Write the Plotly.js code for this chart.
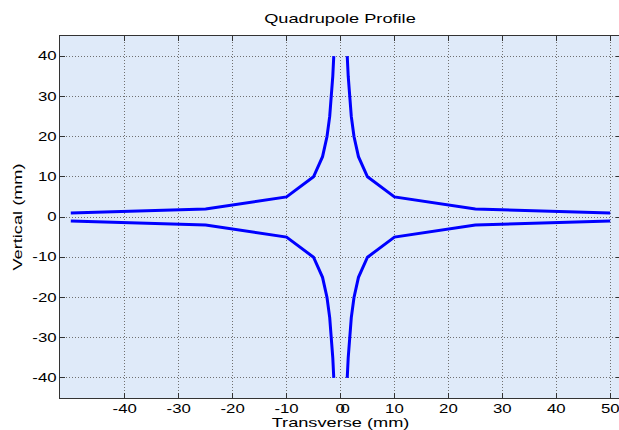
<!DOCTYPE html>
<html>
<head>
<meta charset="utf-8">
<script src="https://cdn.plot.ly/plotly-3.0.1.min.js"></script>
<style>
html,body{margin:0;padding:0;overflow:hidden;background:#fff;}
#chart{width:623px;height:430px;}
</style>
</head>
<body>
<div id="chart"></div>
<script>
// Branch points (right-upper branch), mirrored to the other quadrants
var transverse = [50, 25, 10, 5, 3.33, 2.5, 2, 1.67, 1.43, 1.25];
var vertical   = [1, 2, 5, 10, 15, 20, 25, 30, 35, 40];
var xTickVals = [-40, -30, -20, -10, 0, 10, 20, 30, 40, 50];
var xTickText = ['-40', '-30', '-20', '-10', '<span style="letter-spacing:-3px">00</span>', '10', '20', '30', '40', '50'];
var yTickVals = [-40, -30, -20, -10, 0, 10, 20, 30, 40];
var yTickText = ['-40', '-30', '-20', '-10', '0', '10', '20', '30', '40'];

function neg(a){ return a.map(function(v){ return -v; }); }
var lineStyle = {color: '#0000ff', width: 3};
var traces = [
  {x: transverse, y: vertical},
  {x: neg(transverse), y: vertical},
  {x: transverse, y: neg(vertical)},
  {x: neg(transverse), y: neg(vertical)}
].map(function(t){
  t.type = 'scatter'; t.mode = 'lines'; t.line = lineStyle; t.hoverinfo = 'skip';
  return t;
});

var fontFam = 'Liberation Sans, Arial, Helvetica, sans-serif';
var axisCommon = {
  showgrid: true, gridcolor: '#707070', griddash: '1px,2px', gridwidth: 1,
  zeroline: false, showline: true, linecolor: '#333', linewidth: 1, mirror: 'allticks',
  ticks: 'inside', ticklen: 5, tickcolor: '#333', tickmode: 'array', tickangle: 0,
  tickfont: {family: fontFam, size: 12, color: '#000'}
};
var layout = {
  width: 623, height: 430,
  margin: {l: 60, r: 2, t: 35.5, b: 31.7, pad: 0},
  paper_bgcolor: '#ffffff', plot_bgcolor: '#dfeaf9',
  showlegend: false,
  font: {family: fontFam, color: '#000'},
  title: {text: 'Quadrupole Profile', font: {family: fontFam, size: 13, color: '#000'},
          x: 340/623, xanchor: 'center', xref: 'container', y: 1 - 18/430, yanchor: 'middle', yref: 'container'},
  xaxis: Object.assign({}, axisCommon, {
    range: [-52, 52], tickvals: xTickVals, ticktext: xTickText,
    title: {text: 'Transverse (mm)', font: {family: fontFam, size: 13, color: '#000'}, standoff: 0}
  }),
  yaxis: Object.assign({}, axisCommon, {
    range: [-45, 45], tickvals: yTickVals, ticktext: yTickText,
    title: {text: 'Vertical (mm)', font: {family: fontFam, size: 13, color: '#000'}, standoff: 13}
  })
};
Plotly.newPlot('chart', traces, layout, {staticPlot: true, displayModeBar: false}).then(function(gd){
  // the reference text is drawn horizontally widened; stretch each text about its anchor
  var k = 1.4;
  gd.querySelectorAll('svg text').forEach(function(t){
    var x = parseFloat(t.getAttribute('x')) || 0;
    var y = parseFloat(t.getAttribute('y')) || 0;
    var tr = t.getAttribute('transform') || '';
    t.setAttribute('transform', tr + ' translate(' + x + ',' + y + ') scale(' + k + ',1) translate(' + (-x) + ',' + (-y) + ')');
  });
});
</script>
</body>
</html>
